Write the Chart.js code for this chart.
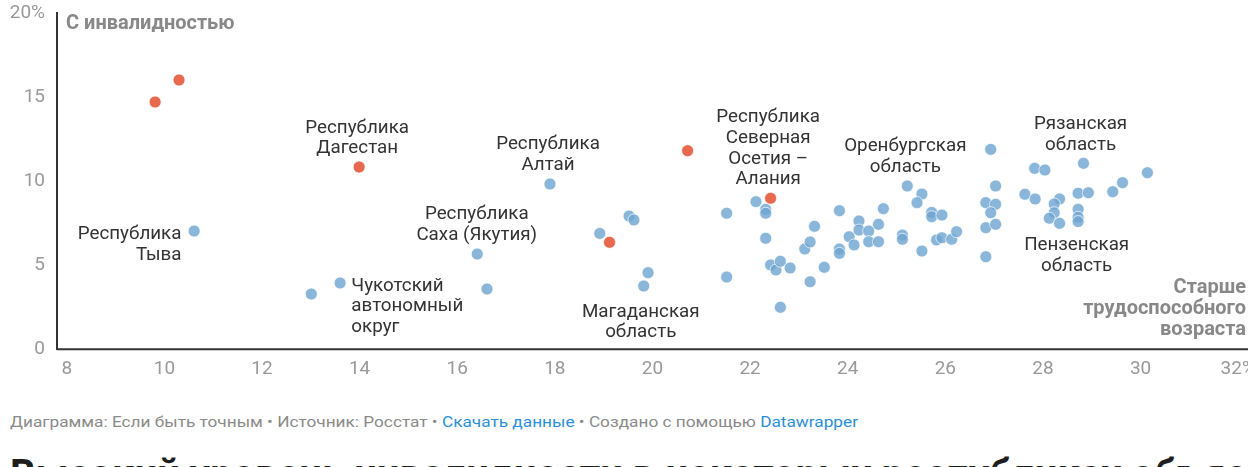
<!DOCTYPE html>
<html lang="ru">
<head>
<meta charset="utf-8">
<title>Инвалидность и доля старше трудоспособного возраста</title>
<script src="https://cdn.jsdelivr.net/npm/chart.js@4/dist/chart.umd.min.js"></script>
<style>
    html, body { margin: 0; padding: 0; background: #fff; overflow: hidden; width: 1248px; height: 467px; }
    #wrap { position: absolute; left: 0; top: 0; width: 1270px; height: 395px; }
    #footer { position: absolute; left: 10px; top: 414px; font: 14px Roboto, sans-serif; color: #8a8a8a; white-space: nowrap; transform-origin: left top; }
    #footer a { color: #2a8fd7; text-decoration: none; }
    #head { position: absolute; left: 10px; top: 451px; font: bold 40px Roboto, sans-serif; color: #1e1e1e; white-space: nowrap; }
</style>
</head>
<body>
<div id="wrap"><canvas id="chart"></canvas></div>
<div id="footer">Диаграмма: Если быть точным • Источник: Росстат • <a href="#">Скачать данные</a> • Создано с помощью <a href="#">Datawrapper</a></div>
<div id="head">Высокий уровень инвалидности в некоторых республиках объясняется первичной</div>
<script>
// доля населения старше трудоспособного возраста (x) и доля людей с инвалидностью (y), %

// выделенные регионы
const redX = [9.81, 10.30, 13.99, 20.72, 22.42, 19.12];
const redY = [14.72, 16.03, 10.85, 11.82, 8.99, 6.37];

// остальные регионы
const blueX = [
    10.61, 13.01, 13.60, 16.41, 16.61, 17.90, 18.92, 19.52, 19.62, 19.91,
    19.82, 21.52, 21.52, 22.12, 22.32, 22.32, 22.32, 22.42, 22.53, 22.62,
    22.82, 22.62, 23.12, 23.23, 23.32, 23.23, 23.52, 23.83, 23.83, 23.83,
    24.03, 24.13, 24.23, 24.23, 24.43, 24.43, 24.63, 24.63, 24.73, 25.12,
    25.12, 25.22, 25.52, 25.42, 25.52, 25.72, 25.72, 25.93, 25.82, 25.93,
    26.13, 26.23, 26.93, 27.03, 26.83, 27.03, 26.93, 26.83, 27.03, 26.83,
    27.83, 28.04, 27.63, 27.84, 28.34, 28.23, 28.23, 28.13, 28.34, 28.72,
    28.93, 28.72, 28.72, 28.72, 28.83, 29.43, 29.63, 30.14
];
const blueY = [
    7.04, 3.29, 3.95, 5.67, 3.59, 9.84, 6.90, 7.93, 7.70, 4.56,
    3.77, 8.10, 4.30, 8.79, 8.33, 8.10, 6.61, 5.02, 4.72, 5.24,
    4.84, 2.50, 5.97, 6.39, 7.32, 4.02, 4.88, 8.25, 5.97, 5.71,
    6.70, 6.21, 7.64, 7.10, 7.04, 6.40, 6.40, 7.44, 8.37, 6.80,
    6.55, 9.72, 9.24, 8.73, 5.85, 8.15, 7.89, 7.99, 6.51, 6.64,
    6.55, 7.00, 11.90, 9.72, 8.73, 8.63, 8.13, 7.24, 7.44, 5.51,
    10.77, 10.67, 9.23, 8.95, 8.95, 8.65, 8.13, 7.80, 7.50, 9.29,
    9.32, 8.33, 7.86, 7.60, 11.07, 9.38, 9.92, 10.51
];

const xTicks = [8, 10, 12, 14, 16, 18, 20, 22, 24, 26, 28, 30, 32];
const xTickLabels = ['8', '10', '12', '14', '16', '18', '20', '22', '24', '26', '28', '30', '32%'];
const yTicks = [0, 5, 10, 15, 20];
const yTickLabels = ['0', '5', '10', '15', '20%'];

// подписи регионов: точка привязки в единицах осей
const notes = [
    { lines: ['Республика', 'Дагестан'], x: 13.95, y: 12.89, align: 'center' },
    { lines: ['Республика', 'Алтай'], x: 17.86, y: 11.90, align: 'center' },
    { lines: ['Республика', 'Саха (Якутия)'], x: 16.40, y: 7.74, align: 'center' },
    { lines: ['Республика', 'Тыва'], x: 10.35, y: 6.55, align: 'right' },
    { lines: ['Чукотский', 'автономный', 'округ'], x: 13.83, y: 3.49, align: 'left' },
    { lines: ['Магаданская', 'область'], x: 19.76, y: 1.94, align: 'center' },
    { lines: ['Республика', 'Северная', 'Осетия –', 'Алания'], x: 22.37, y: 13.51, align: 'center' },
    { lines: ['Оренбургская', 'область'], x: 25.18, y: 11.81, align: 'center' },
    { lines: ['Рязанская', 'область'], x: 28.77, y: 13.11, align: 'center' },
    { lines: ['Пензенская', 'область'], x: 28.69, y: 5.91, align: 'center' }
];

const toPoints = (xs, ys) => xs.map((x, i) => ({ x: x, y: ys[i] }));

// поля подписей делений не должны сдвигать область графика
const noPadding = s => {
    s.paddingTop = 0; s.paddingBottom = 0;
    s.paddingLeft = 0; s.paddingRight = 0;
};

const notesPlugin = {
    id: 'notes',
    afterDraw(chart) {
        const ctx = chart.ctx;
        const xs = chart.scales.x, ys = chart.scales.y;
        const area = chart.chartArea;
        ctx.save();

        // ось X тянется до края
        ctx.strokeStyle = '#333';
        ctx.lineWidth = 2;
        ctx.beginPath();
        ctx.moveTo(area.left, area.bottom);
        ctx.lineTo(chart.width, area.bottom);
        ctx.stroke();

        ctx.font = '18.8px Roboto, sans-serif';
        ctx.fillStyle = '#333';
        ctx.textBaseline = 'alphabetic';
        notes.forEach(n => {
            const px = xs.getPixelForValue(n.x);
            const py = ys.getPixelForValue(n.y);
            ctx.textAlign = n.align;
            n.lines.forEach((t, i) => ctx.fillText(t, px, py + i * 20.7));
        });

        // названия осей
        ctx.font = 'bold 20px Roboto, sans-serif';
        ctx.fillStyle = '#888';
        ctx.textAlign = 'left';
        ctx.fillText('С инвалидностью', area.left + 9, 29);
        ctx.textAlign = 'right';
        ['Старше', 'трудоспособного', 'возраста'].forEach((t, i) => {
            ctx.fillText(t, 1246, 293.3 + i * 20.7);
        });
        ctx.restore();
    }
};

new Chart(document.getElementById('chart'), {
    type: 'scatter',
    data: {
        datasets: [{
            label: 'Выделенные',
            data: toPoints(redX, redY),
            backgroundColor: 'rgba(228, 90, 60, 0.9)',
            borderColor: 'rgba(255, 255, 255, 0.7)',
            borderWidth: 1,
            pointRadius: 6,
            pointHoverRadius: 6
        }, {
            label: 'Остальные регионы',
            data: toPoints(blueX, blueY),
            backgroundColor: 'rgba(112, 166, 210, 0.82)',
            borderColor: 'rgba(255, 255, 255, 0.7)',
            borderWidth: 1,
            pointRadius: 6,
            pointHoverRadius: 6
        }]
    },
    options: {
        responsive: true,
        maintainAspectRatio: false,
        animation: false,
        layout: { padding: { left: 0, top: 13.3, right: 31.8, bottom: 15.7 } },
        plugins: {
            legend: { display: false },
            tooltip: { enabled: false }
        },
        scales: {
            x: {
                type: 'linear',
                min: 7.8,
                max: 32,
                afterBuildTicks: s => { s.ticks = xTicks.map(v => ({ value: v })); },
                afterFit: s => { s.height = 30; noPadding(s); },
                grid: { display: false, drawTicks: false },
                border: { display: false },
                ticks: {
                    padding: 9,
                    maxRotation: 0,
                    autoSkip: false,
                    color: '#999',
                    font: { family: 'Roboto, sans-serif', size: 19 },
                    callback: (v, i) => xTickLabels[i]
                }
            },
            y: {
                min: 0,
                max: 20,
                afterBuildTicks: s => { s.ticks = yTicks.map(v => ({ value: v })); },
                afterFit: s => { s.width = 57; noPadding(s); },
                grid: { display: false, drawTicks: false },
                border: { display: true, color: '#333', width: 2 },
                ticks: {
                    padding: 12,
                    color: '#999',
                    font: { family: 'Roboto, sans-serif', size: 19 },
                    callback: (v, i) => yTickLabels[i]
                }
            }
        }
    },
    plugins: [notesPlugin]
});

// подгоняем ширину строки источника
const footer = document.getElementById('footer');
footer.style.transform = 'scaleX(' + (848 / footer.offsetWidth) + ')';
</script>
</body>
</html>
